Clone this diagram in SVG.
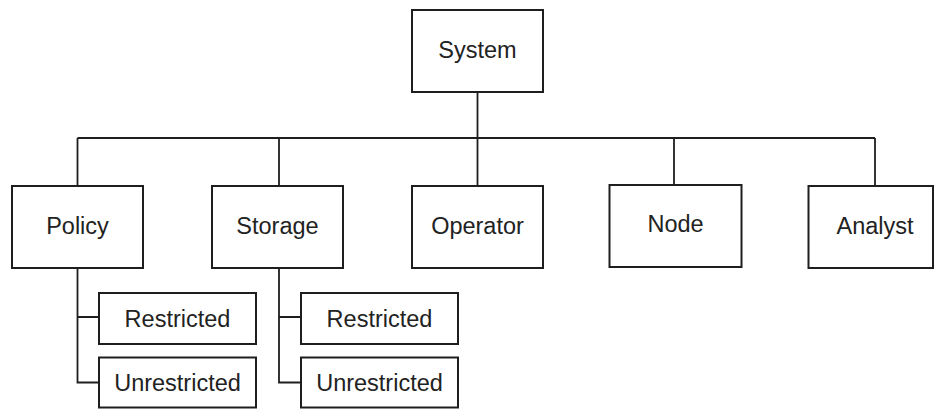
<svg xmlns="http://www.w3.org/2000/svg" width="934" height="409" viewBox="0 0 934 409">
  <style>
    .box { fill: #ffffff; stroke: #1e1e1e; stroke-width: 2; }
    .lbl { font-family: "Liberation Sans", Arial, Helvetica, sans-serif; font-size: 23.5px; fill: #222222; text-anchor: middle; }
    .wire { fill: none; stroke: #1e1e1e; stroke-width: 1.8; }
  </style>

  <!-- connectors -->
  <g id="connectors">
    <path class="wire" d="M477.5 92 V138 M77.5 138 H875 M77.5 138 V186 M279 138 V186 M477.5 138 V186 M674 138 V186 M875 138 V186"/>
    <path class="wire" d="M77.5 268 V382.5 H99 M77.5 317 H99"/>
    <path class="wire" d="M279 268 V382.5 H301 M279 317 H301"/>
  </g>

  <g id="system">
    <rect class="box" x="412" y="10" width="131" height="82"/>
    <text class="lbl" x="477.5" y="57.5">System</text>
  </g>

  <g id="policy">
    <rect class="box" x="12" y="186" width="131" height="82"/>
    <text class="lbl" x="77.5" y="233.5">Policy</text>
  </g>
  <g id="policy-restricted">
    <rect class="box" x="99" y="293" width="157" height="51"/>
    <text class="lbl" x="177.5" y="326.7">Restricted</text>
  </g>
  <g id="policy-unrestricted">
    <rect class="box" x="99" y="357.5" width="157" height="50"/>
    <text class="lbl" x="177.5" y="391">Unrestricted</text>
  </g>

  <g id="storage">
    <rect class="box" x="212" y="186" width="131" height="82"/>
    <text class="lbl" x="277.5" y="233.5">Storage</text>
  </g>
  <g id="storage-restricted">
    <rect class="box" x="301" y="293" width="157" height="51"/>
    <text class="lbl" x="379.5" y="326.7">Restricted</text>
  </g>
  <g id="storage-unrestricted">
    <rect class="box" x="301" y="357.5" width="157" height="50"/>
    <text class="lbl" x="379.5" y="391">Unrestricted</text>
  </g>

  <g id="operator">
    <rect class="box" x="412" y="186" width="131" height="82"/>
    <text class="lbl" x="477.5" y="233.5">Operator</text>
  </g>

  <g id="node">
    <rect class="box" x="609.5" y="185" width="132" height="82"/>
    <text class="lbl" x="675.5" y="231.7">Node</text>
  </g>

  <g id="analyst">
    <rect class="box" x="808.5" y="186" width="124.5" height="82"/>
    <text class="lbl" x="875" y="233.5">Analyst</text>
  </g>
</svg>
